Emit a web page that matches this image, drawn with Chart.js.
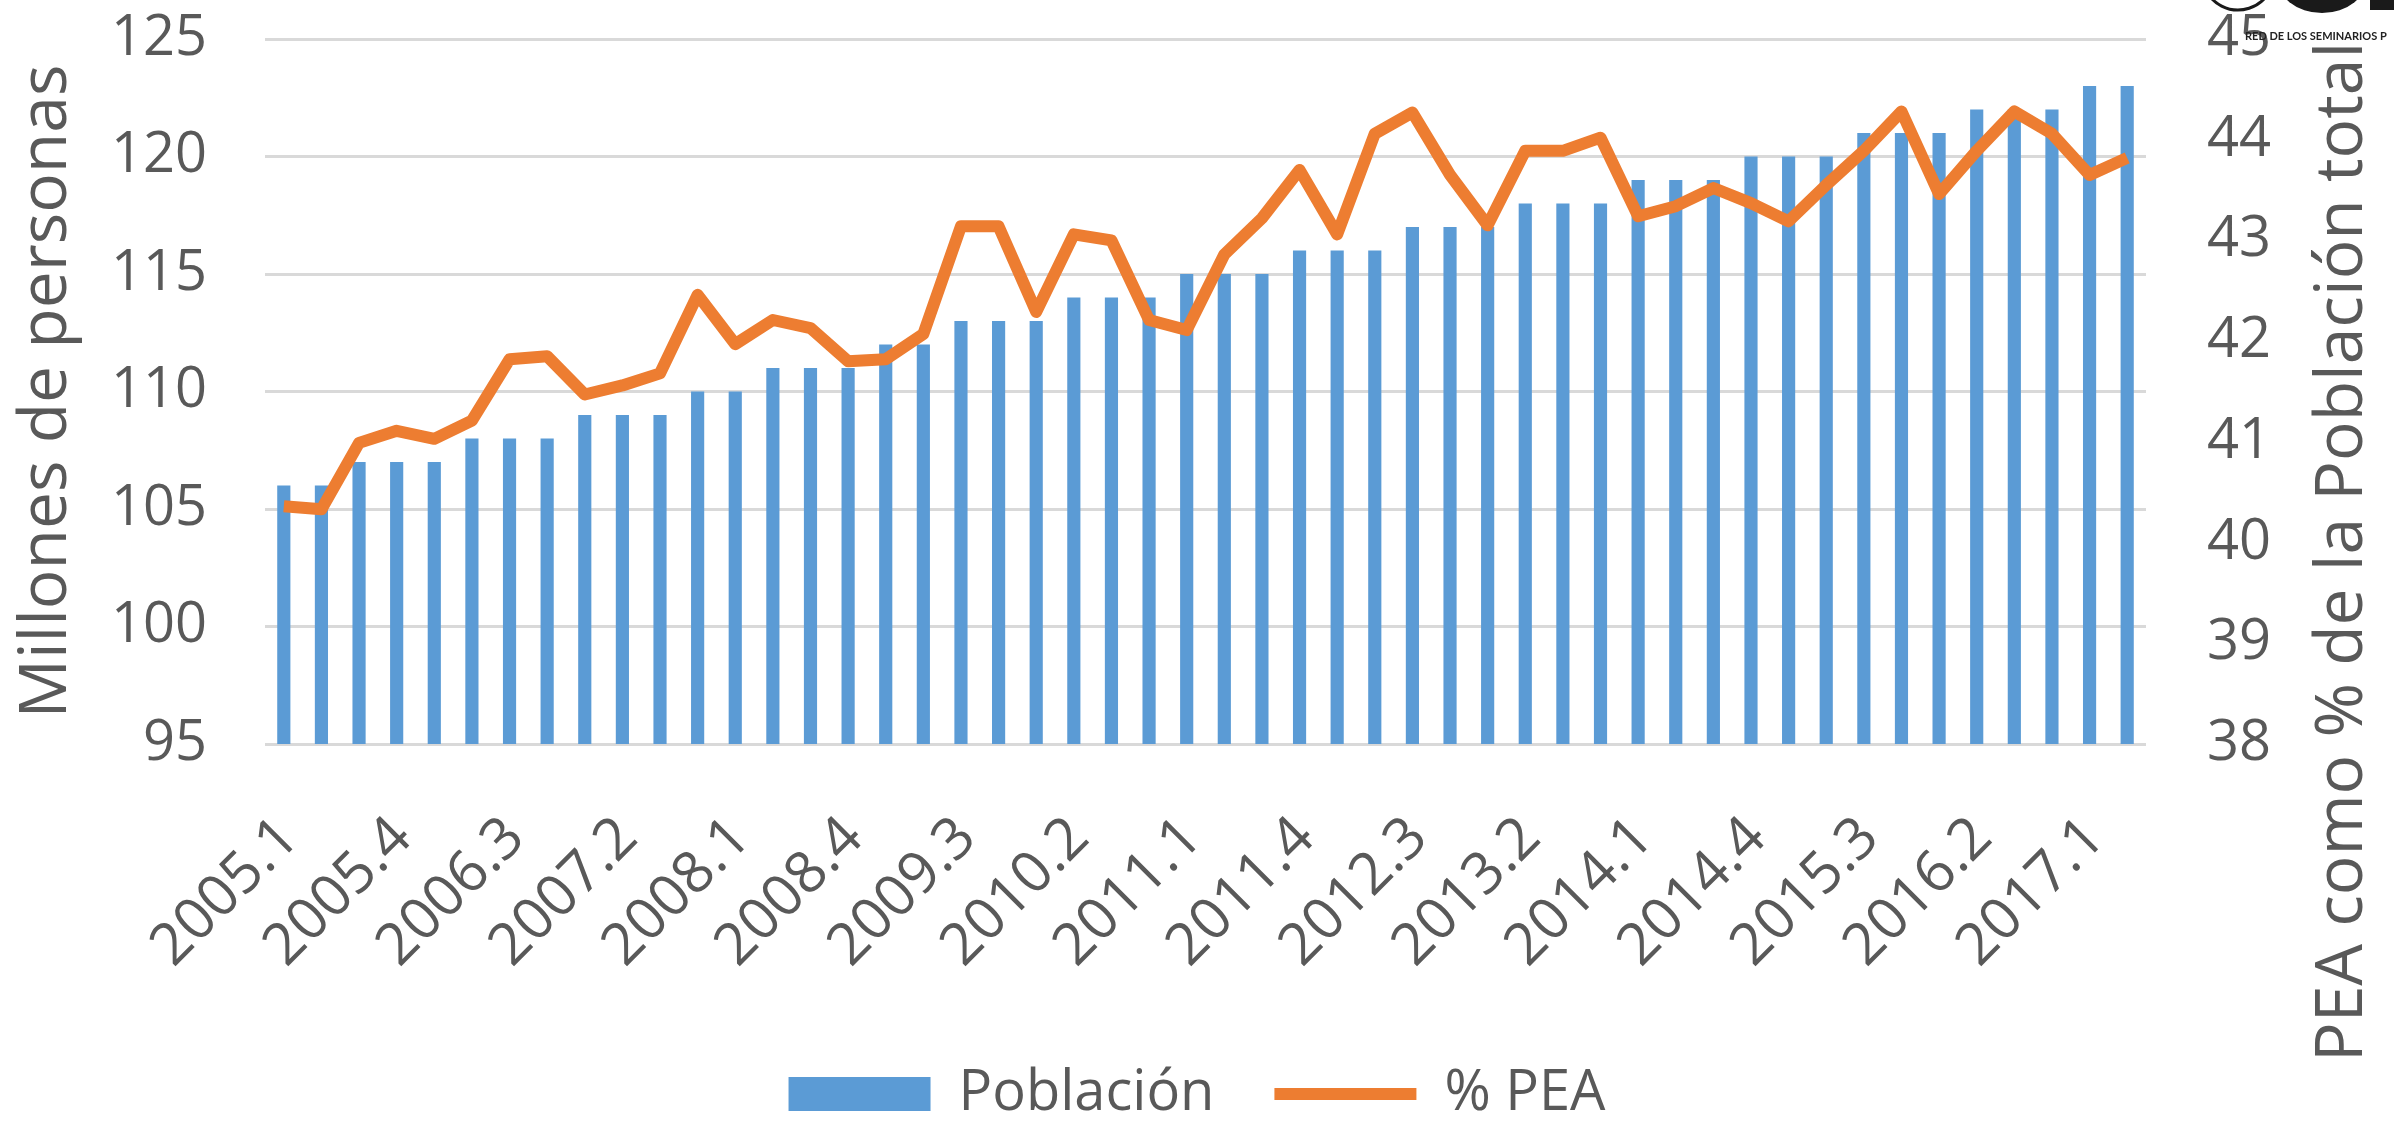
<!DOCTYPE html>
<html lang="es">
<head>
  <meta charset="UTF-8">
  <title>Población y % PEA</title>
  <script src="https://cdn.jsdelivr.net/npm/chart.js@4"></script>
  <style>
    html, body { margin: 0; padding: 0; background: #fff; }
    #wrap { width: 2394px; height: 1132px; position: relative; }
  </style>
</head>
<body>
  <div id="wrap"><canvas id="chart"></canvas></div>

  <script>
    // trimestres
    const periodos = [
      "2005.1", "2005.2", "2005.3", "2005.4",
      "2006.1", "2006.2", "2006.3", "2006.4",
      "2007.1", "2007.2", "2007.3", "2007.4",
      "2008.1", "2008.2", "2008.3", "2008.4",
      "2009.1", "2009.2", "2009.3", "2009.4",
      "2010.1", "2010.2", "2010.3", "2010.4",
      "2011.1", "2011.2", "2011.3", "2011.4",
      "2012.1", "2012.2", "2012.3", "2012.4",
      "2013.1", "2013.2", "2013.3", "2013.4",
      "2014.1", "2014.2", "2014.3", "2014.4",
      "2015.1", "2015.2", "2015.3", "2015.4",
      "2016.1", "2016.2", "2016.3", "2016.4",
      "2017.1", "2017.2"
    ];

    // millones de personas
    const poblacion = [
      106, 106, 107, 107, 107, 108, 108, 108, 109, 109,
      109, 110, 110, 111, 111, 111, 112, 112, 113, 113,
      113, 114, 114, 114, 115, 115, 115, 116, 116, 116,
      117, 117, 117, 118, 118, 118, 119, 119, 119, 120,
      120, 120, 121, 121, 121, 122, 122, 122, 123, 123
    ];

    // PEA como % de la población total
    const pea = [
      40.36, 40.33, 40.99, 41.11, 41.03, 41.21, 41.82, 41.85, 41.47, 41.56,
      41.68, 42.46, 41.97, 42.21, 42.13, 41.80, 41.82, 42.07, 43.14, 43.14,
      42.29, 43.06, 43.00, 42.21, 42.11, 42.86, 43.22, 43.70, 43.06, 44.06,
      44.27, 43.65, 43.15, 43.89, 43.89, 44.02, 43.24, 43.34, 43.52, 43.37,
      43.19, 43.55, 43.89, 44.28, 43.46, 43.89, 44.28, 44.06, 43.65, 43.82
    ];

    const leftTitle = "Millones de personas";
    const rightTitle = "PEA como % de la Población total";
    const logoText = "RED DE LOS SEMINARIOS P";

    const grey = "#595959";
    const fontFam = "'Open Sans', 'Noto Sans', sans-serif";

    // titulo derecho (se lee de abajo hacia arriba) y logo recortado
    const extras = {
      id: "extras",
      afterDraw(chart) {
        const ctx = chart.ctx;
        ctx.save();
        ctx.fillStyle = grey;
        ctx.font = "66px " + fontFam;
        ctx.textAlign = "center";
        ctx.textBaseline = "alphabetic";
        ctx.translate(2362, 552);
        ctx.rotate(-Math.PI / 2);
        ctx.fillText(rightTitle, 0, 0);
        ctx.restore();

        ctx.save();
        ctx.strokeStyle = "#1a1a1a";
        ctx.lineWidth = 3;
        ctx.beginPath();
        ctx.arc(2238, -26, 36, 0.15 * Math.PI, 0.85 * Math.PI);
        ctx.stroke();
        ctx.fillStyle = "#1a1a1a";
        ctx.beginPath();
        ctx.ellipse(2322, -24, 46, 37, 0, 0, Math.PI * 2);
        ctx.fill();
        ctx.fillRect(2370, 0, 24, 10);
        ctx.font = "bold 11px Lato, sans-serif";
        ctx.textAlign = "left";
        ctx.fillStyle = "#222";
        ctx.fillText(logoText, 2245, 36);
        ctx.restore();
      }
    };

    // sin relleno extra arriba/abajo por las etiquetas del eje
    function fixedWidth(w) {
      return function (scale) {
        scale.width = w;
        scale.paddingTop = 30;
        scale.paddingBottom = 30;
      };
    }

    new Chart(document.getElementById("chart"), {
      data: {
        labels: periodos,
        datasets: [
          {
            type: "bar",
            label: "Población",
            data: poblacion,
            backgroundColor: "#5b9bd5",
            borderWidth: 0,
            categoryPercentage: 1,
            barPercentage: 0.35,
            yAxisID: "y",
            order: 1
          },
          {
            type: "line",
            label: "% PEA",
            data: pea,
            borderColor: "#ed7d31",
            backgroundColor: "#ed7d31",
            borderWidth: 12,
            borderJoinStyle: "round",
            pointRadius: 0,
            tension: 0,
            yAxisID: "y1",
            order: 0
          }
        ]
      },
      options: {
        responsive: true,
        maintainAspectRatio: false,
        animation: false,
        layout: { padding: { top: 39, right: 0, bottom: 0, left: 0 } },
        plugins: {
          tooltip: { enabled: false },
          legend: {
            position: "bottom",
            labels: {
              color: grey,
              font: { family: fontFam, size: 56 },
              usePointStyle: true,
              pointStyleWidth: 142,
              boxHeight: 34,
              padding: 60,
              generateLabels(chart) {
                const items = Chart.defaults.plugins.legend.labels.generateLabels(chart);
                items.sort((a, b) => a.datasetIndex - b.datasetIndex);
                items.forEach(it => {
                  if (it.datasetIndex === 0) {
                    it.pointStyle = "rect";
                    it.lineWidth = 0;
                  } else {
                    it.pointStyle = "line";
                    it.lineWidth = 12;
                    it.strokeStyle = "#ed7d31";
                  }
                });
                return items;
              }
            }
          }
        },
        scales: {
          x: {
            offset: true,
            grid: { display: false },
            border: { display: false },
            afterFit(scale) { scale.height = 262; },
            ticks: {
              autoSkip: false,
              maxRotation: 45,
              minRotation: 45,
              padding: 52,
              labelOffset: 6,
              color: grey,
              font: { family: fontFam, size: 58 },
              callback(value, index) {
                return index % 3 === 0 ? this.getLabelForValue(value) : "";
              }
            }
          },
          y: {
            position: "left",
            min: 95,
            max: 125,
            afterFit: fixedWidth(265),
            grid: { color: "#d9d9d9", lineWidth: 3, drawTicks: false },
            border: { display: false },
            ticks: {
              stepSize: 5,
              padding: 58,
              color: grey,
              font: { family: fontFam, size: 56 }
            },
            title: {
              display: true,
              text: leftTitle,
              color: grey,
              font: { family: fontFam, size: 66 },
              padding: { top: 8, bottom: 0 }
            }
          },
          y1: {
            position: "right",
            min: 38,
            max: 45,
            afterFit: fixedWidth(248),
            grid: { display: false, drawTicks: false },
            border: { display: false },
            ticks: {
              stepSize: 1,
              padding: 61,
              color: grey,
              font: { family: fontFam, size: 56 }
            }
          }
        }
      },
      plugins: [extras]
    });
  </script>
</body>
</html>
